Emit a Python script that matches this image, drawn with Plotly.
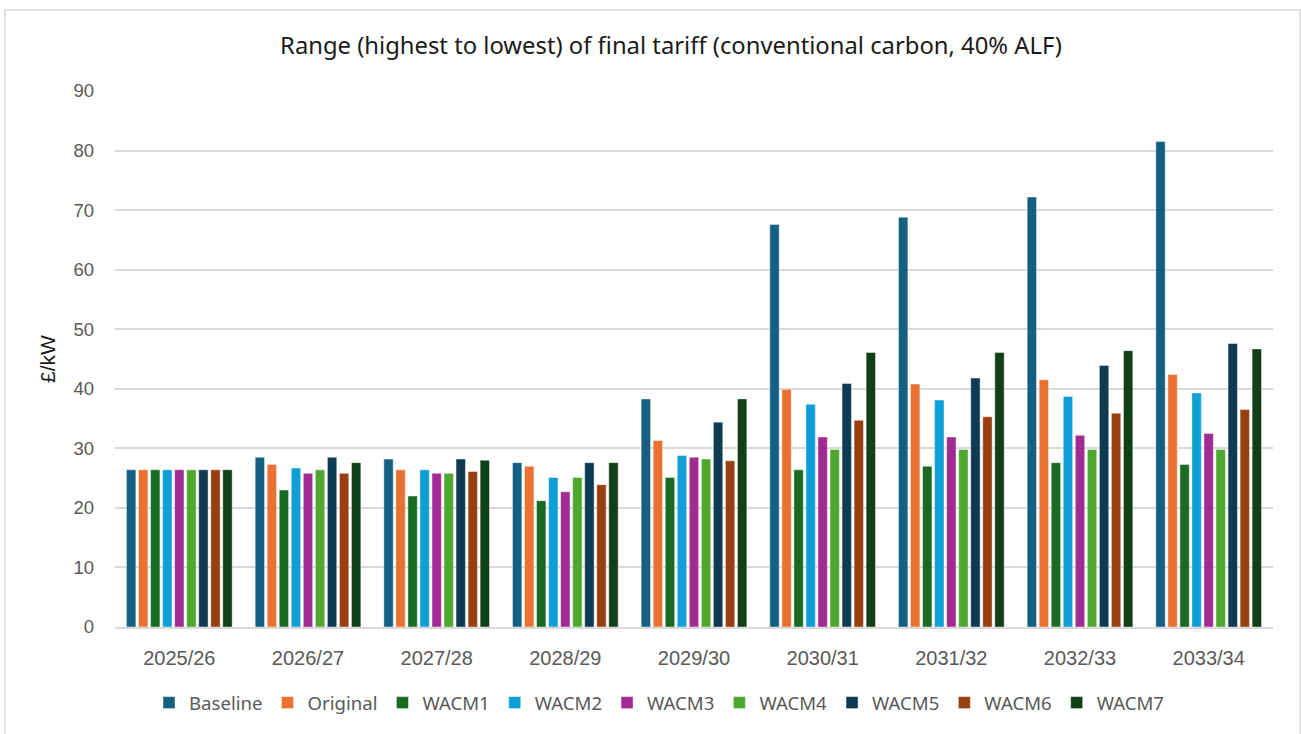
import plotly.graph_objects as go

years = ["2025/26", "2026/27", "2027/28", "2028/29", "2029/30", "2030/31", "2031/32", "2032/33", "2033/34"]

baseline = [26.4, 28.5, 28.2, 27.6, 38.3, 67.6, 68.8, 72.2, 81.5]
original = [26.4, 27.3, 26.4, 27.0, 31.3, 39.9, 40.8, 41.5, 42.4]
wacm1 = [26.4, 23.0, 22.0, 21.2, 25.1, 26.4, 27.0, 27.6, 27.3]
wacm2 = [26.4, 26.7, 26.4, 25.1, 28.8, 37.4, 38.1, 38.7, 39.3]
wacm3 = [26.4, 25.8, 25.8, 22.7, 28.5, 31.9, 31.9, 32.2, 32.5]
wacm4 = [26.4, 26.4, 25.8, 25.1, 28.2, 29.8, 29.8, 29.8, 29.8]
wacm5 = [26.4, 28.5, 28.2, 27.6, 34.4, 40.9, 41.8, 43.9, 47.6]
wacm6 = [26.4, 25.8, 26.1, 23.9, 27.9, 34.7, 35.3, 35.9, 36.5]
wacm7 = [26.4, 27.6, 28.0, 27.6, 38.3, 46.1, 46.1, 46.4, 46.7]

series_names = ["Baseline", "Original", "WACM1", "WACM2", "WACM3", "WACM4", "WACM5", "WACM6", "WACM7"]
series_values = [baseline, original, wacm1, wacm2, wacm3, wacm4, wacm5, wacm6, wacm7]
colors = ["#156082", "#E97132", "#196B24", "#0F9ED5", "#A02B93", "#4EA72E", "#0E3A52", "#984011", "#113F17"]

y_ticks = [0, 10, 20, 30, 40, 50, 60, 70, 80, 90]

fig = go.Figure()
for name, vals, col in zip(series_names, series_values, colors):
    fig.add_trace(go.Bar(
        x=years, y=vals, name=name,
        marker=dict(color=col, line=dict(color="rgba(255,255,255,0.55)", width=0.8)),
    ))

W, H = 1301, 734
L, R, T, B = 115, 28, 91, 107
pw, ph = W - L - R, H - T - B

fig.update_layout(
    width=W, height=H,
    margin=dict(l=L, r=R, t=T, b=B, autoexpand=False),
    paper_bgcolor="white", plot_bgcolor="white",
    barmode="group", bargap=0.158, bargroupgap=0.22,
    font=dict(family="Liberation Sans, Arial, sans-serif", color="#595959", size=17),
    title=dict(
        text="Range (highest to lowest) of final tariff (conventional carbon, 40% ALF)",
        font=dict(family="Noto Sans, sans-serif", size=23.8, color="#1a1a1a"),
        xref="paper", x=(671 - L) / pw, xanchor="center",
        yref="container", y=1 - 46 / H, yanchor="middle",
    ),
    xaxis=dict(
        showgrid=False, showline=True, linecolor="#d9d9d9", linewidth=1.5,
        ticks="", ticklabelstandoff=12,
        tickfont=dict(size=20, color="#595959"),
    ),
    yaxis=dict(
        range=[0, 90], tickvals=y_ticks, showgrid=True, gridcolor="#d9d9d9", gridwidth=1.5,
        zeroline=False, showline=False, ticks="", ticklabelstandoff=20,
        tickfont=dict(size=18.5, color="#595959"),
        title=dict(text="£/kW", font=dict(size=21, color="#1a1a1a"), standoff=12),
    ),
    legend=dict(
        orientation="h", x=(659 - L) / pw, xanchor="center",
        y=-76 / ph, yanchor="middle",
        font=dict(family="Noto Sans, sans-serif", size=18.6, color="#595959"),
        itemwidth=30, traceorder="normal",
    ),
    shapes=[dict(
        type="rect", xref="paper", yref="paper",
        x0=(5 - L) / pw, x1=(1300 - L) / pw,
        y0=-(H + 5 - T - ph) / ph, y1=(T - 10 + ph) / ph,
        line=dict(color="#d9d9d9", width=1.5), fillcolor="rgba(0,0,0,0)", layer="below",
    )],
)

fig.write_html("out.html")
